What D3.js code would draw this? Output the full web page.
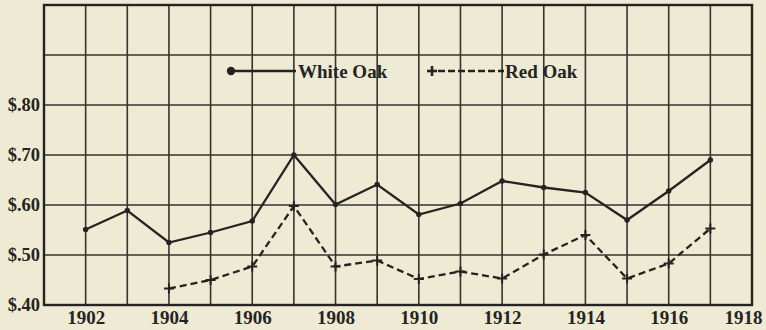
<!DOCTYPE html>
<html>
<head>
<meta charset="utf-8">
<script src="https://cdn.jsdelivr.net/npm/d3@7/dist/d3.min.js"></script>
<style>
  html, body { margin: 0; padding: 0; background: #efead3; }
  svg { display: block; }
</style>
</head>
<body>
<script>
// Price per cubic foot, white oak vs red oak, 1902–1917
const years = [1902, 1903, 1904, 1905, 1906, 1907, 1908, 1909, 1910, 1911, 1912, 1913, 1914, 1915, 1916, 1917];
const whiteOak = [0.551, 0.589, 0.525, 0.545, 0.568, 0.70, 0.601, 0.641, 0.581, 0.603, 0.648, 0.635, 0.625, 0.57, 0.628, 0.69];
const redOakYears = [1904, 1905, 1906, 1907, 1908, 1909, 1910, 1911, 1912, 1913, 1914, 1915, 1916, 1917];
const redOak = [0.433, 0.45, 0.477, 0.598, 0.477, 0.489, 0.452, 0.467, 0.453, 0.501, 0.54, 0.453, 0.483, 0.553];
const xTickYears = [1902, 1904, 1906, 1908, 1910, 1912, 1914, 1916, 1918];
const yTickValues = [0.4, 0.5, 0.6, 0.7, 0.8];
const yGridValues = [0.5, 0.6, 0.7, 0.8, 0.9];
const seriesNames = ["White Oak", "Red Oak"];

const W = 766, H = 330;
const ink = "#242422";
const font = "'Liberation Serif', 'Times New Roman', serif";

const svg = d3.select("body").append("svg").attr("width", W).attr("height", H);
svg.append("rect").attr("width", W).attr("height", H).attr("fill", "#efead3");

const x = d3.scaleLinear().domain([1901, 1918]).range([44, 752]);
const y = d3.scaleLinear().domain([0.4, 1.0]).range([305, 5]);

// grid
const grid = svg.append("g").attr("stroke", "#343431").attr("stroke-width", 1.6);
grid.selectAll("line.v").data(d3.range(1902, 1918)).join("line")
  .attr("x1", d => x(d)).attr("x2", d => x(d))
  .attr("y1", y(1.0)).attr("y2", y(0.4));
grid.selectAll("line.h").data(yGridValues).join("line")
  .attr("x1", x(1901)).attr("x2", x(1918))
  .attr("y1", d => y(d)).attr("y2", d => y(d));

// frame
svg.append("rect")
  .attr("x", x(1901)).attr("y", y(1.0))
  .attr("width", x(1918) - x(1901)).attr("height", y(0.4) - y(1.0))
  .attr("fill", "none").attr("stroke", ink).attr("stroke-width", 2.4);

// axis labels
const xAxis = d3.axisBottom(x).tickValues(xTickYears).tickFormat(d3.format("d")).tickSize(0).tickPadding(6);
const gx = svg.append("g").attr("transform", `translate(0,${y(0.4)})`).call(xAxis);
gx.select(".domain").remove();
gx.selectAll("text")
  .attr("font-family", font).attr("font-weight", "bold").attr("font-size", 19).attr("fill", ink)
  .attr("dx", d => d === 1918 ? -9 : 0);

const yAxis = d3.axisLeft(y).tickValues(yTickValues).tickFormat(d => "$" + d3.format(".2f")(d).slice(1)).tickSize(0).tickPadding(4);
const gy = svg.append("g").attr("transform", `translate(${x(1901)},0)`).call(yAxis);
gy.select(".domain").remove();
gy.selectAll("text")
  .attr("font-family", font).attr("font-weight", "bold").attr("font-size", 18.5).attr("fill", ink);

// series
const line = d3.line().x(d => x(d[0])).y(d => y(d[1]));
const wData = years.map((yr, i) => [yr, whiteOak[i]]);
const rData = redOakYears.map((yr, i) => [yr, redOak[i]]);

svg.append("path").datum(wData).attr("d", line)
  .attr("fill", "none").attr("stroke", ink).attr("stroke-width", 2.3).attr("stroke-linejoin", "miter");
svg.selectAll("circle.w").data(wData).join("circle")
  .attr("cx", d => x(d[0])).attr("cy", d => y(d[1])).attr("r", 2.7).attr("fill", ink);

svg.append("path").datum(rData).attr("d", line)
  .attr("fill", "none").attr("stroke", ink).attr("stroke-width", 2.3).attr("stroke-dasharray", "7,4");
const plus = (g, cx, cy, s) => {
  g.append("line").attr("x1", cx - s).attr("x2", cx + s).attr("y1", cy).attr("y2", cy);
  g.append("line").attr("x1", cx).attr("x2", cx).attr("y1", cy - s).attr("y2", cy + s);
};
const pg = svg.append("g").attr("stroke", ink).attr("stroke-width", 2);
rData.forEach(d => plus(pg, x(d[0]), y(d[1]), 5));

// legend
const ly = 71;
const leg = svg.append("g");
leg.append("circle").attr("cx", 231).attr("cy", ly).attr("r", 4.2).attr("fill", ink);
leg.append("line").attr("x1", 231).attr("x2", 296).attr("y1", ly).attr("y2", ly)
  .attr("stroke", ink).attr("stroke-width", 2.3);
leg.append("text").attr("x", 298).attr("y", ly).attr("dy", "0.35em").text(seriesNames[0])
  .attr("font-family", font).attr("font-weight", "bold").attr("font-size", 19).attr("fill", ink);
const lg2 = leg.append("g").attr("stroke", ink).attr("stroke-width", 2.6);
plus(lg2, 432, ly, 5);
leg.append("line").attr("x1", 438).attr("x2", 504).attr("y1", ly).attr("y2", ly)
  .attr("stroke", ink).attr("stroke-width", 2.3).attr("stroke-dasharray", "7,3");
leg.append("text").attr("x", 505).attr("y", ly).attr("dy", "0.35em").text(seriesNames[1])
  .attr("font-family", font).attr("font-weight", "bold").attr("font-size", 19).attr("fill", ink);
</script>
</body>
</html>
